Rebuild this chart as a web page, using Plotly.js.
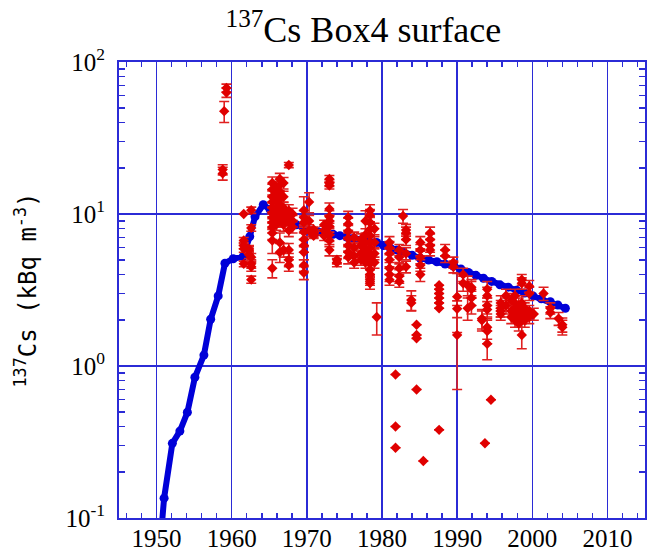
<!DOCTYPE html>
<html><head><meta charset="utf-8">
<script src="https://cdn.plot.ly/plotly-3.0.1.min.js"></script>
<style>html,body{margin:0;padding:0;background:#fff}</style>
</head><body><div id="chart" style="width:649px;height:551px"></div>
<script>
// Model curve (blue)
const modelYears = [1950.0,1951.0,1952.1,1953.1,1954.1,1955.1,1956.3,1957.2,1958.2,1959.1,1960.2,1961.5,1962.4,1963.1,1964.2,1965.1,1966.0,1966.9,1968.0,1968.6,1969.5,1970.4,1971.5,1972.6,1973.5,1974.4,1975.3,1976.2,1977.2,1978.2,1979.3,1980.2,1981.1,1982.0,1982.8,1984.0,1985.1,1986.2,1987.3,1988.4,1989.5,1990.5,1991.5,1992.5,1993.5,1994.6,1995.7,1996.8,1997.9,1999.0,2000.1,2001.2,2002.4,2003.4,2004.4];
const modelValues = [0.035,0.135,0.31,0.373,0.496,0.843,1.18,2.03,2.89,4.74,5.08,5.24,7.1,9.6,11.5,10.7,9.6,9.1,8.7,8.5,8.2,7.85,7.65,7.5,7.35,7.2,7.05,6.9,6.75,6.65,6.5,6.2,5.95,5.8,5.65,5.35,5.11,4.98,4.85,4.68,4.55,4.35,4.12,3.95,3.78,3.6,3.42,3.3,3.15,3.02,2.89,2.77,2.65,2.52,2.4];

// Observations (red), grouped by sampling time
const obsGroupYears = [1958.8,1959.0,1959.3,1961.6,1962.3,1962.6,1965.4,1965.9,1966.4,1966.9,1967.6,1968.1,1969.6,1970.3,1970.9,1972.3,1973.0,1974.0,1975.5,1976.3,1977.2,1977.8,1978.4,1979.0,1979.3,1981.0,1981.8,1982.3,1982.8,1983.2,1983.9,1984.6,1985.1,1985.5,1986.4,1987.6,1988.4,1989.5,1990.0,1990.8,1991.4,1991.9,1993.3,1993.7,1994.0,1994.5,1995.8,1996.5,1997.2,1997.7,1998.2,1998.6,1999.0,1999.6,2000.2,2001.5,2002.4,2003.5,2004.0];
const obsGroupValues = [
 [18.5,19.6],[47.5],[63.0,67.5],[10.0,6.7,6.2,5.9,4.7],[5.9,5.8,5.4],[10.6,8.1,5.2,4.7,4.5,3.7],
 [16.0,14.5,13.0,12.0,11.0,10.2,9.5,8.8,8.2,7.5,6.7,4.4],[15.0,13.5,12.3,11.0,10.0,9.2,8.5],
 [17.0,15.5,14.0,12.5,11.5,10.6,9.8,9.0,6.5,5.6],[16.0,13.0,11.0,10.0,9.4,8.5,5.8],
 [21.0,10.5,9.6,8.8,7.8,5.8,5.0,4.6],[10.0,9.0,8.2],[10.6,9.5,8.8,7.6,6.8,6.2,5.6,4.6,4.1],
 [12.0,9.0,7.8],[7.9,7.6,7.3,7.5,7.2],[8.5,7.8,7.2],[17.0,16.0,15.4,10.8,9.6,9.0,8.3,7.3,6.7,5.8],
 [5.0,4.8],[9.5,8.6,7.7,6.9,6.2,5.6,5.2],[7.0,6.0,5.3,4.8],[6.8,6.2,5.5,5.0],[9.0,7.3,6.5,5.9,5.3,4.8],
 [10.5,9.8,8.8,7.9,7.2,6.5,6.0,5.5,5.1,4.7,4.3,4.0,3.7,3.5],[8.0,6.5,5.5,4.8],[2.1],
 [6.5,6.0,5.5,5.0,4.4,4.0,3.7],[0.88,0.40,0.29],[5.8,5.2,4.4,3.9,3.6],[9.7],[7.85,7.5,6.8,5.5,4.5],
 [2.72,2.6],[1.87,1.6,1.52,0.70],[6.5,5.8,5.2,4.6,4.0],[0.237],[7.5,6.8,6.2,5.8],
 [3.4,3.2,3.0,2.8,2.6,2.4,0.38],[5.8,5.3],[4.8,4.5],[2.86,2.38,1.6],[4.0,3.5],[3.4,2.4],[3.3,3.2,2.8,2.5],
 [2.05,2.0],[0.31],[3.2,2.9,2.5,2.35,1.8,1.7,1.4],[0.60],[2.6,2.4,2.3,2.2],[2.9,2.5],[2.7,2.3,2.1],
 [2.9,2.6,2.4,2.2,2.0],[2.5,2.2,2.0,1.9],[3.7,3.5,2.6,2.3,2.1,1.6],[2.4,2.2,2.0],[3.35,3.0,2.3,2.1],
 [2.2],[3.0],[2.4,2.25],[2.05],[1.87,1.8]
];
const obsGroupErrors = [
 [1.8,1.5],[7.5],[4.5,4.0],[0,0.3,0.3,0.3,0.2],[0.3,0.3,0.3],[0.5,0.4,0.3,0.3,0.3,0.2],
 [1.5,1.2,1.2,1.0,1.0,0.9,0.8,0.8,0.7,0.7,1.2,0.6],[1.3,1.2,1.0,0.9,0.9,0.8,0.7],
 [1.5,1.3,1.2,1.1,1.0,0.9,0.9,0.8,1.0,0.8],[1.4,1.1,1.0,0.9,0.8,0.8,0.6],
 [0.8,1.0,0.9,0.8,0.7,0.6,0.5,0.4],[0.9,0.8,0.7],[2.4,1.0,0.9,0.8,0.7,0.6,0.6,0.4,0.4],
 [1.8,0.8,0.7],[0.3,0.3,0.3,0.3,0.3],[0.6,0.5,0.5],[0.9,0.8,0.8,1.0,0.9,0.8,0.7,0.7,0.6,0.5],
 [0.3,0.3],[0.9,0.8,0.7,0.6,0.6,0.5,0.5],[0.6,0.5,0.5,0.4],[0.6,0.5,0.5,0.4],[1.5,0.7,0.6,0.5,0.5,0.4],
 [1.0,0.9,0.8,0.7,0.7,0.6,0.6,0.5,0.5,0.4,0.4,0.4,0.3,0.3],[0.7,0.6,0.5,0.4],[0.5],
 [0.6,0.6,0.5,0.5,0.4,0.4,0.3],[0,0,0],[0.5,0.5,0.4,0.4,0.3],[1.0],[0.7,0.7,0.6,0.5,0.4],
 [0.4,0.3],[0,0,0,0],[0.6,0.5,0.5,0.4,0.4],[0],[0.7,0.6,0.6,0.5],
 [0,0,0,0,0,0,0],[0.5,0.5],[0.4,0.4],[1.2,0.3,0.9],[0.4,0.4],[0.5,0.4],[0.4,0.4,0.3,0.3],
 [0.3,0.3],[0],[0.4,0.4,0.3,0.3,0.3,0.3,0.3],[0],[0.3,0.3,0.2,0.2],[0.3,0.3],[0.3,0.2,0.2],
 [0.3,0.3,0.2,0.2,0.2],[0.3,0.2,0.2,0.2],[0.3,0.3,0.3,0.2,0.2,0.3],[0.2,0.2,0.2],[0.3,0.3,0.2,0.2],
 [0.2],[0.3],[0.2,0.2],[0.2],[0.2,0.2]
];

const xTickVals = [1950,1960,1970,1980,1990,2000,2010];
const yTickVals = [0.1,1,10,100];
const yTickText = ['10<sup>-1</sup>','10<sup>0</sup>','10<sup>1</sup>','10<sup>2</sup>'];

const obsX = [], obsY = [], obsE = [];
obsGroupYears.forEach((yr, i) => {
  obsGroupValues[i].forEach((v, j) => {
    obsX.push(yr); obsY.push(v); obsE.push(obsGroupErrors[i][j]);
  });
});

const yMinor = [];
[0.1,1,10].forEach(d => { for (let k = 2; k <= 9; k++) yMinor.push(d * k); });

const axisBlue = '#2b2bd6';
const tickFont = {family: 'Liberation Serif, serif', size: 25, color: '#000'};

const traces = [
  {
    x: modelYears, y: modelValues, type: 'scatter', mode: 'lines+markers',
    line: {color: '#0000d8', width: 6},
    marker: {color: '#0000d8', size: 9, symbol: 'circle'},
    hoverinfo: 'x+y', showlegend: false
  },
  {
    x: obsX, y: obsY, type: 'scatter', mode: 'markers',
    marker: {color: '#e00000', size: 8, symbol: 'diamond'},
    error_y: {type: 'data', array: obsE, visible: true, color: '#e02020', thickness: 1.6, width: 5},
    showlegend: false
  }
];

const layout = {
  width: 649, height: 551,
  margin: {l: 119, r: 4, t: 62, b: 33},
  paper_bgcolor: '#fff', plot_bgcolor: '#fff',
  showlegend: false,
  title: {
    text: '<sup>137</sup>Cs Box4 surface',
    font: {family: 'Liberation Serif, serif', size: 36, color: '#000'},
    x: 0.56, xanchor: 'center', y: 0.947, yanchor: 'middle', yref: 'container', xref: 'container'
  },
  xaxis: {
    range: [1945, 2015], tickmode: 'array', tickvals: xTickVals,
    ticks: 'inside', ticklen: 8, tickwidth: 1.5, tickcolor: axisBlue,
    showgrid: true, gridcolor: axisBlue, gridwidth: 1.5, zeroline: false,
    showline: true, linecolor: axisBlue, linewidth: 2, mirror: 'ticks',
    minor: {dtick: 2, tick0: 1950, ticks: 'inside', ticklen: 5, tickwidth: 1.5, tickcolor: axisBlue, showgrid: false},
    tickfont: tickFont, ticklabelstandoff: -3
  },
  yaxis: {
    type: 'log', range: [-1, 2], tickmode: 'array', tickvals: yTickVals, ticktext: yTickText,
    ticks: 'inside', ticklen: 8, tickwidth: 1.5, tickcolor: axisBlue,
    showgrid: true, gridcolor: axisBlue, gridwidth: 1.5, zeroline: false,
    showline: true, linecolor: axisBlue, linewidth: 2, mirror: 'ticks',
    minor: {tickmode: 'array', tickvals: yMinor, ticks: 'inside', ticklen: 6, tickwidth: 1.5, tickcolor: axisBlue, showgrid: false},
    tickfont: tickFont, ticklabelstandoff: 7,
    title: {text: '<sup>137</sup>Cs (kBq m<sup>-3</sup>)', standoff: 22, font: {family: 'DejaVu Sans Mono, monospace', size: 24, color: '#000'}}
  }
};

Plotly.newPlot('chart', traces, layout, {displayModeBar: false, staticPlot: true});
</script>
</body></html>
